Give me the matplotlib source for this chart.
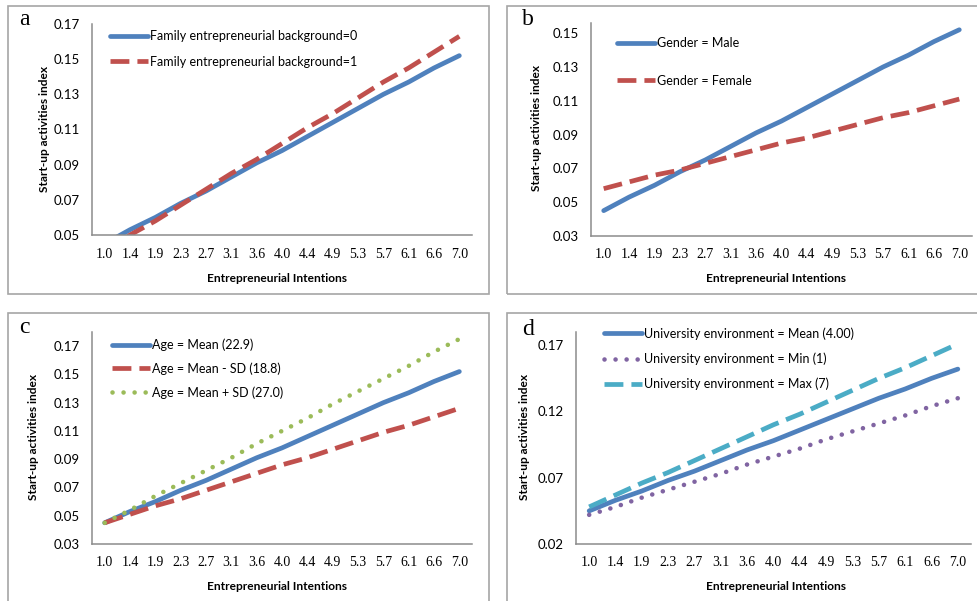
import matplotlib

matplotlib.use("Agg")
import matplotlib.pyplot as plt
from matplotlib.patches import Rectangle

plt.rcParams["font.family"] = ["Lato", "DejaVu Sans"]

W, H = 977, 601

ei_labels = ["1.0", "1.4", "1.9", "2.3", "2.7", "3.1", "3.6", "4.0",
             "4.4", "4.9", "5.3", "5.7", "6.1", "6.6", "7.0"]

# predicted start-up activities index
mean_line = [0.045, 0.053, 0.060, 0.068, 0.075, 0.083, 0.091, 0.098,
             0.106, 0.114, 0.122, 0.130, 0.137, 0.145, 0.152]
family_1 = [0.041, 0.050, 0.058, 0.067, 0.076, 0.085, 0.093, 0.102,
            0.111, 0.119, 0.128, 0.137, 0.145, 0.154, 0.163]
female = [0.058, 0.062, 0.066, 0.069, 0.073, 0.077, 0.081, 0.085,
          0.088, 0.092, 0.096, 0.100, 0.103, 0.107, 0.111]
age_low = [0.045, 0.051, 0.057, 0.062, 0.068, 0.074, 0.080, 0.086,
           0.091, 0.097, 0.103, 0.109, 0.114, 0.120, 0.126]
age_high = [0.045, 0.054, 0.064, 0.073, 0.082, 0.091, 0.101, 0.110,
            0.119, 0.129, 0.138, 0.147, 0.156, 0.166, 0.175]
uni_min = [0.042, 0.048, 0.055, 0.061, 0.067, 0.073, 0.080, 0.086,
           0.092, 0.099, 0.105, 0.111, 0.117, 0.124, 0.130]
uni_max = [0.048, 0.057, 0.066, 0.074, 0.083, 0.092, 0.101, 0.110,
           0.118, 0.127, 0.136, 0.145, 0.153, 0.162, 0.171]

BLUE, RED, GREEN, PURPLE, TEAL = "#4F81BD", "#C0504D", "#9BBB59", "#8064A2", "#4BACC6"
SOLID = dict(lw=3.4, solid_capstyle="round")
DASH = dict(lw=3.4, ls=(0, (4.0, 1.7)), dash_capstyle="butt")
DOT = dict(lw=3.3, ls=(0, (0.01, 2.4)), dash_capstyle="round")

fig = plt.figure(figsize=(W / 100, H / 100), dpi=100)


def px_axes(l, t, r, b):
    return fig.add_axes([l / W, 1 - b / H, (r - l) / W, (b - t) / H])


def style(ax, ylim, yticks, ycoord, xcoord):
    ax.set_xlim(-0.5, len(ei_labels) - 0.5)
    ax.set_ylim(*ylim)
    ax.set_xticks(range(len(ei_labels)))
    ax.set_xticklabels(ei_labels, family="Liberation Serif", fontsize=10)
    ax.set_yticks(yticks)
    ax.set_yticklabels([f"{v:.2f}" for v in yticks], fontsize=9.5)
    ax.tick_params(length=0, pad=9)
    for s in ("top", "right"):
        ax.spines[s].set_visible(False)
    for s in ("left", "bottom"):
        ax.spines[s].set_color("#8C8C8C")
        ax.spines[s].set_linewidth(1.1)
    ax.set_ylabel("Start-up activities index", fontsize=8.6, fontweight="bold")
    ax.set_xlabel("Entrepreneurial Intentions", fontsize=8.6, fontweight="bold")
    ax.yaxis.set_label_coords(ycoord, 0.505)
    ax.xaxis.set_label_coords(xcoord[0], xcoord[1])


def legend(ax, x, y, spacing):
    ax.legend(loc="upper left", bbox_to_anchor=(x / W, 1 - y / H),
              bbox_transform=fig.transFigure, frameon=False, fontsize=9.0,
              borderpad=0, borderaxespad=0, handlelength=3.0,
              handletextpad=0.2, labelspacing=spacing)


# panel frames
for l, t, r, b in [(8, 6, 489, 294), (507, 6, 990, 294),
                   (8, 313, 489, 615), (507, 313, 990, 615)]:
    fig.patches.append(Rectangle((l / W, 1 - b / H), (r - l) / W, (b - t) / H,
                                 transform=fig.transFigure, fill=False,
                                 ec="#A6A6A6", lw=1.2))

x = range(len(ei_labels))

# a
ax = px_axes(92, 24, 472, 235)
ax.plot(x, mean_line, color=BLUE, label="Family entrepreneurial background=0", **SOLID)
ax.plot(x, family_1, color=RED, label="Family entrepreneurial background=1", **DASH)
style(ax, (0.05, 0.17), [0.05, 0.07, 0.09, 0.11, 0.13, 0.15, 0.17], -0.11, (0.487, -0.179))
legend(ax, 110, 30.5, 1.05)

# b
ax = px_axes(591, 23, 972, 236)
ax.plot(x, mean_line, color=BLUE, label="Gender = Male", **SOLID)
ax.plot(x, female, color=RED, label="Gender = Female", **DASH)
style(ax, (0.03, 0.156), [0.03, 0.05, 0.07, 0.09, 0.11, 0.13, 0.15], -0.129, (0.486, -0.172))
legend(ax, 617, 37, 2.05)

# c
ax = px_axes(92, 332, 472, 544)
ax.plot(x, mean_line, color=BLUE, label="Age = Mean (22.9)", **SOLID)
ax.plot(x, age_low, color=RED, label="Age = Mean - SD (18.8)", **DASH)
ax.plot(x, age_high, color=GREEN, label="Age = Mean + SD (27.0)", **DOT)
style(ax, (0.03, 0.18), [0.03, 0.05, 0.07, 0.09, 0.11, 0.13, 0.15, 0.17], -0.139, (0.486, -0.175))
legend(ax, 112, 338.5, 0.9)

# d
ax = px_axes(576, 332, 971, 544)
ax.plot(x, mean_line, color=BLUE, label="University environment = Mean (4.00)", **SOLID)
ax.plot(x, uni_min, color=PURPLE, label="University environment = Min (1)", **DOT)
ax.plot(x, uni_max, color=TEAL, label="University environment = Max (7)", **DASH)
style(ax, (0.02, 0.18), [0.02, 0.07, 0.12, 0.17], -0.117, (0.506, -0.175))
legend(ax, 604, 327, 1.03)

for letter, lx, ly in [("a", 19, 25), ("b", 522, 25), ("c", 19, 333), ("d", 522, 335)]:
    fig.text(lx / W, 1 - ly / H, letter, family="Liberation Serif", fontsize=17,
             ha="left", va="baseline")

fig.savefig("out.png", dpi=100)
